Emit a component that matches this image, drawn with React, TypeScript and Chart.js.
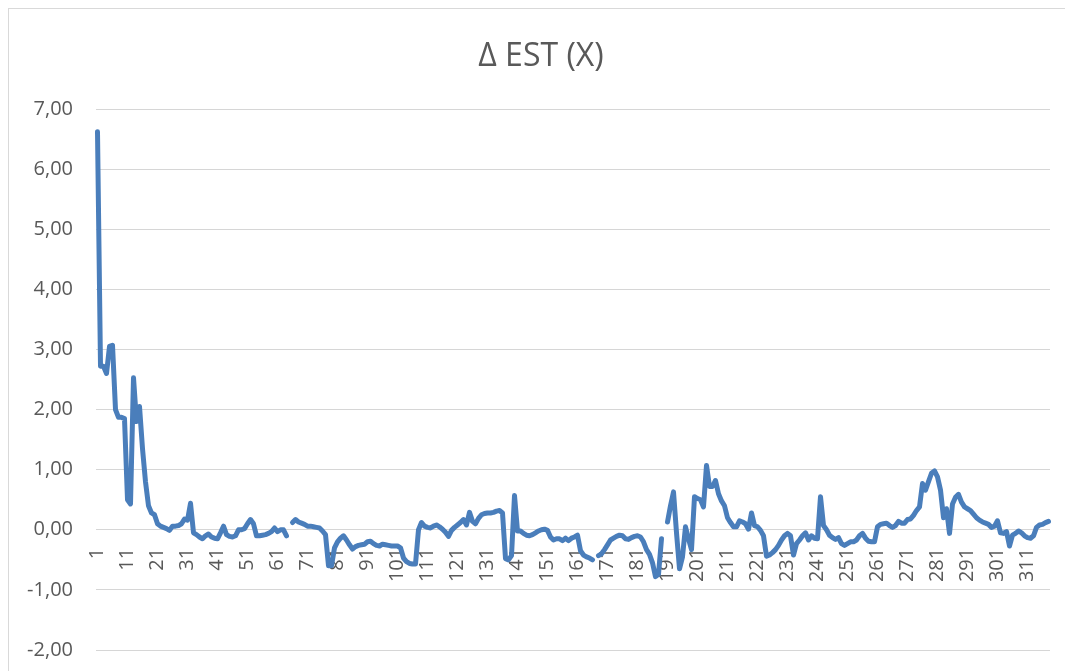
import { useEffect, useRef } from "react";
import { Chart, registerables } from "chart.js";

Chart.register(...registerables);

const TITLE = "Δ EST (X)";

// Series values (points 1–318); null = gap in the line
const values001to050 = [
  6.62, 2.72, 2.72, 2.6, 3.05, 3.07, 2.0, 1.87, 1.87, 1.85,
  0.5, 0.43, 2.53, 1.8, 2.05, 1.35, 0.8, 0.4, 0.28, 0.25,
  0.1, 0.06, 0.04, 0.02, -0.01, 0.06, 0.06, 0.07, 0.1, 0.18,
  0.16, 0.44, -0.05, -0.08, -0.12, -0.15, -0.1, -0.07, -0.12, -0.14,
  -0.15, -0.05, 0.06, -0.08, -0.11, -0.12, -0.1, 0.0, 0.0, 0.02,
];
const values051to100 = [
  0.1, 0.17, 0.1, -0.1, -0.1, -0.09, -0.08, -0.06, -0.03, 0.03,
  -0.03, 0.0, 0.0, -0.1, null, 0.12, 0.17, 0.13, 0.11, 0.09,
  0.06, 0.06, 0.05, 0.04, 0.03, -0.02, -0.08, -0.6, -0.6, -0.3,
  -0.2, -0.14, -0.1, -0.17, -0.25, -0.32, -0.28, -0.26, -0.25, -0.24,
  -0.2, -0.19, -0.23, -0.26, -0.27, -0.24, -0.25, -0.26, -0.27, -0.27,
];
const values101to150 = [
  -0.27, -0.3, -0.47, -0.53, -0.56, -0.57, -0.57, 0.0, 0.12, 0.06,
  0.04, 0.03, 0.06, 0.08, 0.05, 0.01, -0.04, -0.11, -0.01, 0.04,
  0.08, 0.12, 0.17, 0.08, 0.29, 0.14, 0.1, 0.19, 0.25, 0.27,
  0.28, 0.28, 0.29, 0.31, 0.32, 0.28, -0.48, -0.5, -0.43, 0.57,
  -0.02, -0.02, -0.06, -0.09, -0.1, -0.08, -0.05, -0.02, 0.0, 0.01,
];
const values151to200 = [
  -0.01, -0.12, -0.17, -0.15, -0.15, -0.18, -0.14, -0.18, -0.14, -0.12,
  -0.09, -0.35, -0.42, -0.45, -0.47, -0.5, null, -0.43, -0.4, -0.33,
  -0.25, -0.17, -0.14, -0.11, -0.09, -0.1, -0.15, -0.16, -0.13, -0.11,
  -0.1, -0.12, -0.2, -0.33, -0.41, -0.55, -0.78, -0.74, -0.15, null,
  0.13, 0.4, 0.63, -0.05, -0.65, -0.45, 0.05, -0.15, -0.33, 0.55,
];
const values201to250 = [
  0.52, 0.5, 0.38, 1.07, 0.72, 0.72, 0.82, 0.6, 0.48, 0.4,
  0.2, 0.12, 0.05, 0.05, 0.15, 0.13, 0.1, 0.01, 0.28, 0.07,
  0.05, -0.01, -0.1, -0.44, -0.42, -0.38, -0.33, -0.26, -0.17, -0.1,
  -0.06, -0.1, -0.42, -0.23, -0.17, -0.1, -0.05, -0.17, -0.1, -0.14,
  -0.15, 0.55, 0.07, 0.0, -0.09, -0.13, -0.16, -0.13, -0.23, -0.26,
];
const values251to300 = [
  -0.23, -0.2, -0.2, -0.17, -0.1, -0.06, -0.14, -0.19, -0.2, -0.2,
  0.05, 0.09, 0.1, 0.11, 0.07, 0.04, 0.07, 0.14, 0.11, 0.11,
  0.17, 0.18, 0.24, 0.32, 0.38, 0.77, 0.66, 0.8, 0.94, 0.98,
  0.88, 0.66, 0.2, 0.35, -0.06, 0.43, 0.54, 0.59, 0.46, 0.38,
  0.35, 0.32, 0.26, 0.2, 0.16, 0.13, 0.11, 0.09, 0.04, 0.06,
];
const values301to318 = [
  0.15, -0.05, -0.06, -0.03, -0.27, -0.09, -0.06, -0.02, -0.05, -0.1,
  -0.13, -0.14, -0.1, 0.04, 0.08, 0.09, 0.12, 0.14,
];

const estValues: (number | null)[] = [
  ...values001to050,
  ...values051to100,
  ...values101to150,
  ...values151to200,
  ...values201to250,
  ...values251to300,
  ...values301to318,
];

const categories = estValues.map((_, i) => String(i + 1));
const LABEL_EVERY = 10;
const Y_MIN = -2;
const Y_MAX = 7;
const Y_STEP = 1;

const TEXT_COLOR = "#595959";
const FONT_FAMILY = '"Open Sans", "Noto Sans", sans-serif';

export default function App() {
  const ref = useRef<HTMLCanvasElement>(null);

  useEffect(() => {
    const canvas = ref.current;
    if (!canvas) return;

    const xLabelPlugin = {
      id: "xLabelsAtZero",
      beforeDatasetsDraw(chart: any) {
        const { ctx } = chart;
        const xs = chart.scales.x;
        const ys = chart.scales.y;
        const y0 = ys.getPixelForValue(0) + 18;
        ctx.save();
        ctx.font = `20px ${FONT_FAMILY}`;
        ctx.fillStyle = TEXT_COLOR;
        ctx.textAlign = "right";
        ctx.textBaseline = "middle";
        categories.forEach((c, i) => {
          if (i % LABEL_EVERY !== 0) return;
          const px = xs.getPixelForValue(i);
          ctx.save();
          ctx.translate(px, y0);
          ctx.rotate(-Math.PI / 2);
          ctx.fillText(c, 0, 0);
          ctx.restore();
        });
        ctx.restore();
      },
    };

    const titlePlugin = {
      id: "titleText",
      afterDraw(chart: any) {
        const { ctx } = chart;
        ctx.save();
        ctx.font = `32px ${FONT_FAMILY}`;
        ctx.fillStyle = TEXT_COLOR;
        ctx.textAlign = "center";
        ctx.textBaseline = "alphabetic";
        ctx.fillText(TITLE, 532, 57);
        ctx.restore();
      },
    };

    const chart = new Chart(canvas, {
      type: "line",
      data: {
        labels: categories,
        datasets: [
          {
            data: estValues,
            borderColor: "#4A7EBB",
            backgroundColor: "#4A7EBB",
            borderWidth: 5,
            pointRadius: 0,
            pointHoverRadius: 0,
            tension: 0,
            spanGaps: false,
            fill: false,
            borderCapStyle: "round",
            borderJoinStyle: "round",
          },
        ],
      },
      options: {
        responsive: false,
        animation: false,
        events: [],
        layout: { padding: { top: 100, right: 15, bottom: 21, left: 0 } },
        plugins: {
          legend: { display: false },
          tooltip: { enabled: false },
          title: { display: false },
        },
        scales: {
          x: {
            type: "category",
            offset: true,
            display: false,
          },
          y: {
            min: Y_MIN,
            max: Y_MAX,
            ticks: {
              stepSize: Y_STEP,
              padding: 23,
              color: TEXT_COLOR,
              font: { family: FONT_FAMILY, size: 20 },
              callback: (v: any) => Number(v).toFixed(2).replace(".", ","),
            },
            grid: { color: "#d6d6d6", lineWidth: 1, drawTicks: false },
            border: { display: false },
            afterFit: (s: any) => {
              s.width = 87;
              s.paddingTop = 0;
              s.paddingBottom = 0;
            },
          },
        },
      },
      plugins: [xLabelPlugin, titlePlugin],
    } as any);

    return () => chart.destroy();
  }, []);

  return (
    <div
      style={{
        width: 1057,
        height: 663,
        boxSizing: "border-box",
        borderLeft: "1px solid #d9d9d9",
        borderTop: "1px solid #d9d9d9",
        background: "#fff",
        overflow: "hidden",
      }}
    >
      <canvas ref={ref} width={1056} height={662} style={{ display: "block" }} />
    </div>
  );
}
